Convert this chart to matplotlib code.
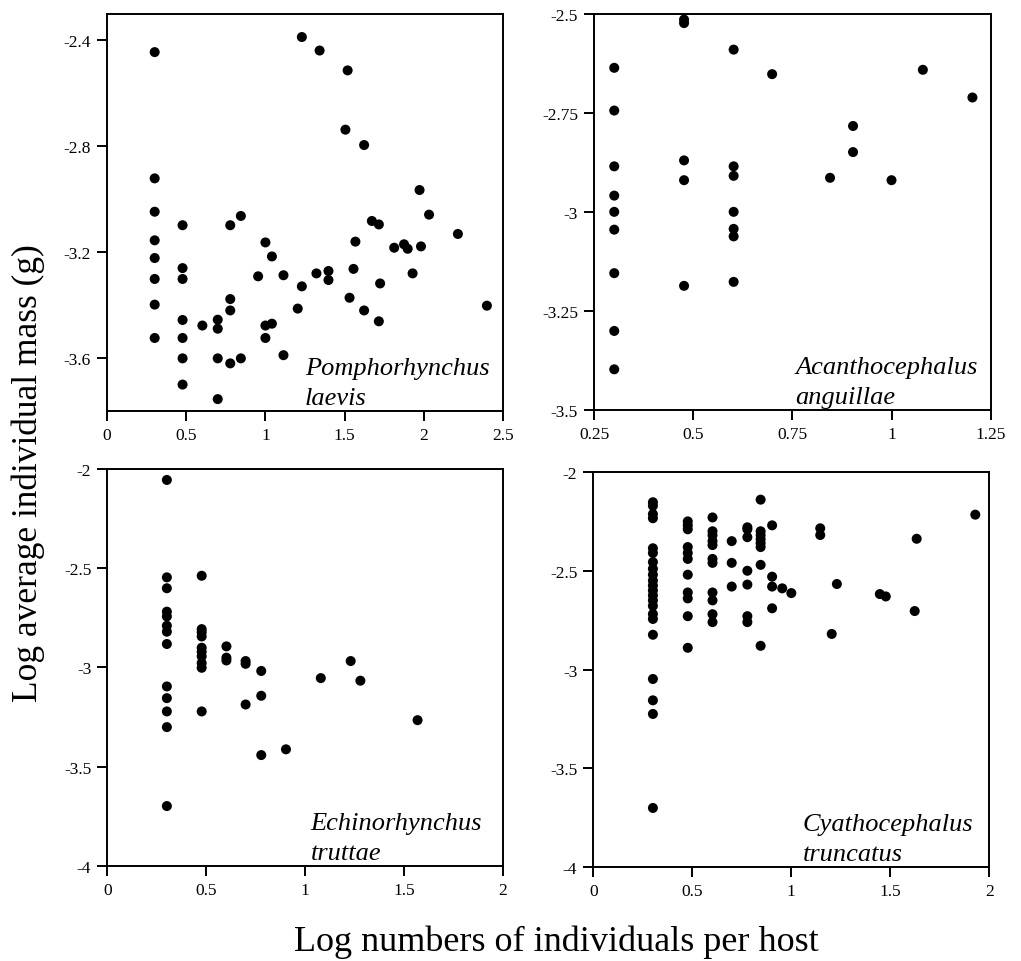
import matplotlib
matplotlib.use("Agg")
import matplotlib.pyplot as plt

plt.rcParams['font.family'] = ['Liberation Serif', 'DejaVu Serif']
plt.rcParams['axes.unicode_minus'] = False

# Pomphorhynchus laevis
pl_x = [0.301, 1.230, 1.342, 1.519, 1.505, 1.623, 0.301, 0.301, 1.973, 2.033,
        0.845, 0.477, 0.778, 1.672, 1.716, 2.215, 0.301, 1.000, 1.568, 1.813,
        1.875, 1.898, 1.982, 0.301, 1.041, 0.477, 1.556, 0.301, 0.477, 0.954,
        1.114, 1.322, 1.398, 1.398, 1.929, 1.724, 1.230, 0.778, 1.531, 0.301,
        2.398, 0.778, 1.204, 1.623, 0.477, 0.699, 0.699, 0.602, 1.000, 1.041,
        1.716, 0.301, 0.477, 1.000, 1.114, 0.477, 0.699, 0.845, 0.778, 0.477,
        0.699]
pl_y = [-2.444, -2.387, -2.438, -2.513, -2.737, -2.795, -2.921, -3.047, -2.965, -3.058,
        -3.063, -3.098, -3.098, -3.082, -3.095, -3.131, -3.155, -3.163, -3.160, -3.183,
        -3.170, -3.187, -3.178, -3.222, -3.216, -3.260, -3.263, -3.301, -3.301, -3.291,
        -3.287, -3.280, -3.271, -3.305, -3.280, -3.318, -3.329, -3.377, -3.372, -3.398,
        -3.402, -3.420, -3.413, -3.420, -3.456, -3.455, -3.489, -3.477, -3.477, -3.470,
        -3.461, -3.524, -3.524, -3.524, -3.589, -3.601, -3.601, -3.601, -3.620, -3.700,
        -3.755]

# Acanthocephalus anguillae
aa_x = [0.477, 0.477, 0.602, 0.301, 0.699, 1.079, 1.204, 0.301, 0.903, 0.903,
        0.301, 0.477, 0.602, 0.602, 0.477, 0.845, 1.000, 0.301, 0.301, 0.602,
        0.301, 0.602, 0.602, 0.301, 0.477, 0.602, 0.301, 0.301]
aa_y = [-2.514, -2.523, -2.590, -2.636, -2.652, -2.641, -2.711, -2.744, -2.783, -2.849,
        -2.885, -2.870, -2.885, -2.909, -2.920, -2.914, -2.920, -2.959, -3.000, -3.000,
        -3.045, -3.043, -3.062, -3.155, -3.187, -3.177, -3.301, -3.398]

# Echinorhynchus truttae
et_x = [0.301] * 13 + [0.477] * 10 + [0.602] * 3 + [0.699] * 3 + [0.778] * 3 + \
       [0.903, 1.079, 1.230, 1.279, 1.568]
et_y = [-2.055, -2.546, -2.601, -2.719, -2.743, -2.790, -2.820, -2.882, -3.096, -3.155,
        -3.222, -3.301, -3.699,
        -2.538, -2.807, -2.823, -2.844, -2.901, -2.921, -2.944, -2.978, -3.002, -3.222,
        -2.894, -2.951, -2.965,
        -2.968, -2.982, -3.187,
        -3.018, -3.143, -3.442,
        -3.413, -3.054, -2.968, -3.067, -3.266]

# Cyathocephalus truncatus
ct_x = [0.301] * 22 + [0.477] * 11 + [0.602] * 11 + [0.699] * 3 + [0.778] * 7 + \
       [0.845] * 8 + [0.903] * 4 + \
       [0.954, 1.000, 1.146, 1.146, 1.204, 1.230, 1.447, 1.477, 1.623, 1.633, 1.929]
ct_y = [-2.153, -2.171, -2.213, -2.234, -2.386, -2.410, -2.456, -2.490, -2.520, -2.550,
        -2.575, -2.600, -2.625, -2.650, -2.678, -2.719, -2.744, -2.824, -3.048, -3.156,
        -3.225, -3.701,
        -2.25, -2.27, -2.29, -2.38, -2.41, -2.44, -2.52, -2.61, -2.64, -2.73, -2.89,
        -2.23, -2.30, -2.32, -2.35, -2.37, -2.44, -2.46, -2.61, -2.65, -2.72, -2.76,
        -2.35, -2.46, -2.58,
        -2.28, -2.29, -2.33, -2.50, -2.57, -2.73, -2.76,
        -2.14, -2.30, -2.32, -2.34, -2.36, -2.38, -2.47, -2.88,
        -2.27, -2.53, -2.58, -2.69,
        -2.589, -2.613, -2.285, -2.319, -2.820, -2.567, -2.618, -2.630, -2.704, -2.338,
        -2.216]

names = ["Pomphorhynchus\nlaevis", "Acanthocephalus\nanguillae",
         "Echinorhynchus\ntruttae", "Cyathocephalus\ntruncatus"]

xticks = [[0, 0.5, 1, 1.5, 2, 2.5], [0.25, 0.5, 0.75, 1, 1.25],
          [0, 0.5, 1, 1.5, 2], [0, 0.5, 1, 1.5, 2]]
xticklabels = [["0", "0.5", "1", "1.5", "2", "2.5"], ["0.25", "0.5", "0.75", "1", "1.25"],
               ["0", "0.5", "1", "1.5", "2"], ["0", "0.5", "1", "1.5", "2"]]
yticks = [[-2.4, -2.8, -3.2, -3.6], [-2.5, -2.75, -3, -3.25, -3.5],
          [-2, -2.5, -3, -3.5, -4], [-2, -2.5, -3, -3.5, -4]]
yticklabels = [["-2.4", "-2.8", "-3.2", "-3.6"], ["-2.5", "-2.75", "-3", "-3.25", "-3.5"],
               ["-2", "-2.5", "-3", "-3.5", "-4"], ["-2", "-2.5", "-3", "-3.5", "-4"]]
xlims = [(0, 2.5), (0.25, 1.25), (0, 2), (0, 2)]
ylims = [(-3.8, -2.3), (-3.5, -2.5), (-4, -2), (-4, -2)]

xs = [pl_x, aa_x, et_x, ct_x]
ys = [pl_y, aa_y, et_y, ct_y]

boxes = [[0.1048, 0.5717, 0.3879, 0.4127],
         [0.5818, 0.5731, 0.3885, 0.4113],
         [0.1051, 0.0990, 0.3876, 0.4124],
         [0.5811, 0.0977, 0.3879, 0.4106]]
label_x = [0.50, 0.507, 0.514, 0.529]

fig = plt.figure(figsize=(10.21, 9.62), dpi=100)

for i in range(4):
    ax = fig.add_axes(boxes[i])
    ax.scatter(xs[i], ys[i], s=52, color='black', edgecolors='none', zorder=3)
    ax.set_xlim(xlims[i])
    ax.set_ylim(ylims[i])
    ax.set_xticks(xticks[i])
    ax.set_xticklabels(xticklabels[i])
    ax.set_yticks(yticks[i])
    ax.set_yticklabels(yticklabels[i])
    ax.tick_params(direction='out', length=7, width=1.4, labelsize=12.5, pad=4.5)
    for sp in ax.spines.values():
        sp.set_linewidth(1.4)
    ax.text(label_x[i], 0.005, names[i], transform=ax.transAxes, ha='left', va='bottom',
            fontsize=19, style='italic', linespacing=1.45)

fig.text(0.028, 0.508, "Log average individual mass (g)", rotation=90,
         ha='center', va='center', fontsize=25.5)
fig.text(0.545, 0.011, "Log numbers of individuals per host", ha='center',
         va='baseline', fontsize=26)

fig.savefig("out.png", dpi=100)
